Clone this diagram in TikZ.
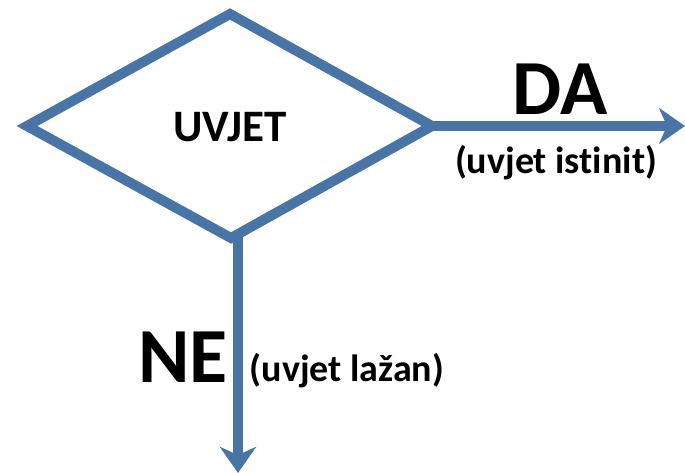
\documentclass[tikz,border=0pt]{standalone}
\usepackage{fontspec}
\setmainfont{Carlito}[Ligatures={NoCommon,NoRare,NoContextual}]
\usetikzlibrary{arrows.meta}
\definecolor{flowblue}{RGB}{72,117,166}
\tikzset{
  flowline/.style={draw=flowblue, line width=10pt},
  flowarrow/.style={flowline, -{Stealth[length=26pt,width=36pt,inset=8pt]}},
  bigtxt/.style={font=\fontsize{78}{78}\selectfont\bfseries, inner sep=0pt, anchor=base},
  smalltxt/.style={font=\fontsize{38}{38}\selectfont\bfseries, inner sep=0pt, anchor=base},
  condtxt/.style={font=\fontsize{45}{45}\selectfont\bfseries, inner sep=0pt, anchor=base}
}
\begin{document}
\begin{tikzpicture}[x=1pt,y=-1pt]
\useasboundingbox (0,0) rectangle (685,473);
\coordinate (L) at (27,126);
\coordinate (T) at (230,14);
\coordinate (R) at (432,126);
\coordinate (B) at (231,238);
\coordinate (Rend) at (685,126);
\coordinate (Bstart) at (238,236);
\coordinate (Bend) at (238,473);
\draw[flowline, line join=miter] (L) -- (T) -- (R) -- (B) -- cycle;
\node[condtxt] (cond) at (230,142) {UVJET};
\draw[flowarrow] (R) -- (Rend);
\draw[flowarrow] (Bstart) -- (Bend);
\node[bigtxt] (da) at (560,115) {DA};
\node[smalltxt] (daexp) at (556,174) {(uvjet istinit)};
\node[bigtxt] (ne) at (183,382) {NE};
\node[smalltxt] (neexp) at (347,381) {(uvjet lažan)};
\end{tikzpicture}
\end{document}
